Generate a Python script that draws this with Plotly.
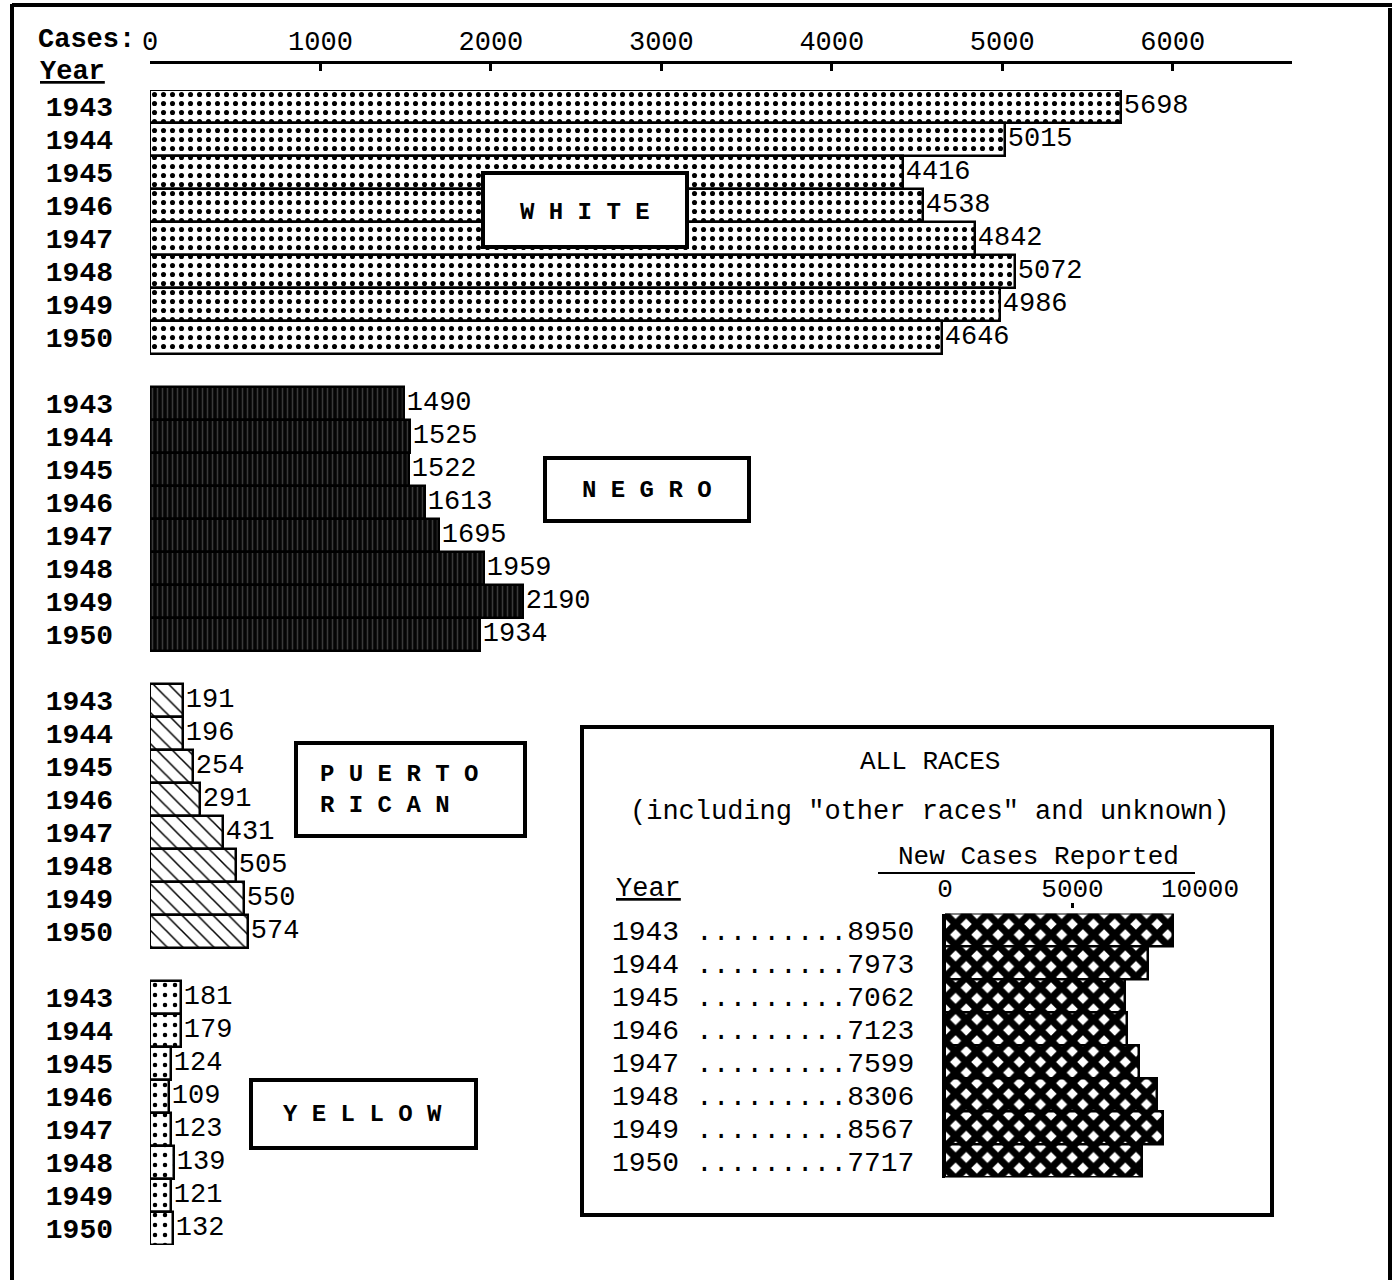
import plotly.graph_objects as go

W, H = 1398, 1280

years = [1943, 1944, 1945, 1946, 1947, 1948, 1949, 1950]
white = [5698, 5015, 4416, 4538, 4842, 5072, 4986, 4646]
negro = [1490, 1525, 1522, 1613, 1695, 1959, 2190, 1934]
puerto_rican = [191, 196, 254, 291, 431, 505, 550, 574]
yellow = [181, 179, 124, 109, 123, 139, 121, 132]
all_races = [8950, 7973, 7062, 7123, 7599, 8306, 8567, 7717]

main_ticks = [0, 1000, 2000, 3000, 4000, 5000, 6000]
inset_ticks = [0, 5000, 10000]

FONT = "Liberation Mono"


def px(x):
    return x / W


def py(y):
    return 1 - y / H


groups = [
    ("white", white, dict(shape=".", fgcolor="black", bgcolor="white", size=9, solidity=0.25)),
    ("negro", negro, dict(shape="|", fgcolor="#3a3a3a", bgcolor="#050505", size=5, solidity=0.3)),
    ("pr", puerto_rican, dict(shape="\\", fgcolor="black", bgcolor="white", size=11, solidity=0.14)),
    ("yellow", yellow, dict(shape=".", fgcolor="black", bgcolor="white", size=10, solidity=0.16)),
]

fig = go.Figure()

tickvals, ticktext = [], []
for g, (name, vals, pat) in enumerate(groups):
    pos = [g * 9 + i for i in range(len(years))]
    tickvals += pos
    ticktext += [str(y) for y in years]
    fig.add_trace(go.Bar(
        x=vals, y=pos, orientation="h", width=1,
        marker=dict(color=pat["bgcolor"], line=dict(color="black", width=2.5), pattern=pat),
        text=[str(v) for v in vals], textposition="outside", constraintext="none",
        textfont=dict(family=FONT, size=27, color="black"),
        cliponaxis=False, showlegend=False, xaxis="x", yaxis="y",
    ))

inset_pos = list(range(len(years)))
fig.add_trace(go.Bar(
    x=all_races, y=inset_pos, orientation="h", width=1,
    marker=dict(color="white", line=dict(color="black", width=2.5),
                pattern=dict(shape="x", fgcolor="black", bgcolor="white", size=15, solidity=0.72)),
    showlegend=False, xaxis="x2", yaxis="y2",
))

fig.update_layout(
    template="none",
    width=W, height=H, autosize=False,
    margin=dict(l=0, r=0, t=0, b=0, pad=0),
    paper_bgcolor="white", plot_bgcolor="rgba(0,0,0,0)",
    font=dict(family=FONT, color="black"),
    bargap=0,
    xaxis=dict(
        domain=[px(150), px(1292)], range=[0, 6700], side="top", anchor="free", position=py(62),
        tickvals=main_ticks, ticktext=[str(t) for t in main_ticks], automargin=False,
        showline=True, linecolor="black", linewidth=3, ticks="inside", ticklen=7, tickwidth=3,
        tickcolor="black", showgrid=False, zeroline=False,
        tickfont=dict(family=FONT, size=27, color="black"),
    ),
    yaxis=dict(
        domain=[py(1245), py(90)], range=[34.5, -0.5], anchor="x", automargin=False,
        tickvals=tickvals, ticktext=ticktext, showgrid=False, zeroline=False, showline=False,
        ticks="", ticklabelstandoff=36,
        tickfont=dict(family=FONT, size=28, color="black", weight="bold"),
    ),
    xaxis2=dict(
        domain=[px(945), px(1200)], range=[0, 10000], side="top", anchor="free", position=py(902),
        tickvals=inset_ticks, ticktext=[str(t) for t in inset_ticks], automargin=False,
        showline=False, ticks="inside", ticklen=5, tickwidth=3, tickcolor="black",
        showgrid=False, zeroline=False,
        tickfont=dict(family=FONT, size=26, color="black"),
    ),
    yaxis2=dict(
        domain=[py(1177.5), py(913.5)], range=[7.5, -0.5], anchor="x2", automargin=False,
        tickvals=inset_pos,
        ticktext=[f"{y} .........{v}" for y, v in zip(years, all_races)],
        showgrid=False, zeroline=False, showline=True, linecolor="black", linewidth=3,
        ticks="", ticklabelstandoff=22,
        tickfont=dict(family=FONT, size=28, color="black"),
    ),
)

shapes = []
# outer frame
shapes.append(dict(type="line", xref="paper", yref="paper", x0=px(12), x1=px(12), y0=py(4), y1=py(1280),
                   line=dict(color="black", width=4)))
shapes.append(dict(type="line", xref="paper", yref="paper", x0=px(12), x1=px(1392), y0=py(5), y1=py(5),
                   line=dict(color="black", width=4)))
shapes.append(dict(type="line", xref="paper", yref="paper", x0=px(1390), x1=px(1390), y0=py(8), y1=py(1280),
                   line=dict(color="black", width=4)))
# label boxes
for (x0, x1, y0, y1) in [(483, 687, 173, 247), (545, 749, 458, 521), (296, 525, 743, 836), (251, 476, 1080, 1148)]:
    shapes.append(dict(type="rect", xref="paper", yref="paper", x0=px(x0), x1=px(x1), y0=py(y1), y1=py(y0),
                       fillcolor="white", line=dict(color="black", width=4), layer="above"))
# inset box
shapes.append(dict(type="rect", xref="paper", yref="paper", x0=px(582), x1=px(1272), y0=py(1215), y1=py(727),
                   line=dict(color="black", width=4)))
# underline for "New Cases Reported"
shapes.append(dict(type="line", xref="paper", yref="paper", x0=px(878), x1=px(1195), y0=py(873), y1=py(873),
                   line=dict(color="black", width=2)))
fig.update_layout(shapes=shapes)


def ann(text, x, y, size=26, xanchor="center", bold=False, align="center"):
    return dict(text=text, x=px(x), y=py(y), xref="paper", yref="paper", xanchor=xanchor, yanchor="middle",
                showarrow=False, align=align,
                font=dict(family=FONT, size=size, color="black", weight="bold" if bold else "normal"))


annotations = [
    ann("Cases:", 36, 40, size=27, xanchor="left", bold=True),
    ann("<u>Year</u>", 38, 72, size=27, xanchor="left", bold=True),
    ann("W H I T E", 585, 213, size=24, bold=True),
    ann("N E G R O", 647, 491, size=24, bold=True),
    ann("P U E R T O<br>R I C A N", 318, 790, size=24, xanchor="left", bold=True, align="left"),
    ann("Y E L L O W", 363, 1114, size=24, bold=True),
    ann("ALL RACES", 930, 762, size=26),
    ann("(including \"other races\" and unknown)", 930, 812, size=27),
    ann("New Cases Reported", 1038, 857, size=26),
    ann("<u>Year</u>", 614, 889, size=27, xanchor="left"),
]
fig.update_layout(annotations=annotations)

fig.write_html(
    "out.html",
    config={"displayModeBar": False},
    post_script="document.body.style.margin='0';document.body.style.overflow='hidden';",
)
